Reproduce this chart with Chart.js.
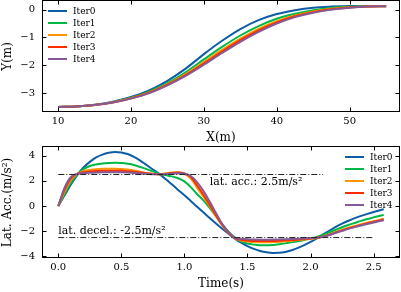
<!DOCTYPE html>
<html>
<head>
<meta charset="utf-8">
<script src="https://cdn.jsdelivr.net/npm/chart.js@4.4.1/dist/chart.umd.min.js"></script>
<style>
  html, body { margin: 0; padding: 0; background: #fff; }
  #wrap { position: relative; width: 401px; height: 292px; overflow: hidden; }
  canvas { position: absolute; left: 0; }
  #pathChart { top: 0; }
  #accChart { top: 146px; }
</style>
</head>
<body>
<div id="wrap">
  <canvas id="pathChart" width="401" height="146"></canvas>
  <canvas id="accChart" width="401" height="146"></canvas>
</div>
<script>
// series names + colours
const iterLabels = ['Iter0', 'Iter1', 'Iter2', 'Iter3', 'Iter4'];
const iterColors = ['#0C5DA5', '#00B945', '#FF9500', '#FF2C00', '#845B97'];

// top plot: path Y(m) over X(m)
const pathX = [10, 12.5, 15, 17.5, 20, 22.5, 25, 27.5, 30, 32.5, 35, 37.5, 40, 42.5, 45, 47.5, 50, 52.5, 55];
const pathY0 = [-3.5, -3.48, -3.42, -3.31, -3.14, -2.9, -2.56, -2.12, -1.6, -1.12, -0.7, -0.38, -0.16, -0.02, 0.07, 0.11, 0.13, 0.13, 0.13];
const pathY1 = [-3.5, -3.48, -3.425, -3.325, -3.17, -2.95, -2.64, -2.25, -1.79, -1.34, -0.93, -0.59, -0.33, -0.15, -0.02, 0.06, 0.1, 0.12, 0.125];
const pathY2 = [-3.5, -3.48, -3.428, -3.33, -3.185, -2.975, -2.68, -2.315, -1.885, -1.45, -1.045, -0.695, -0.415, -0.21, -0.065, 0.03, 0.085, 0.115, 0.122];
const pathY3 = [-3.5, -3.48, -3.43, -3.335, -3.19, -2.99, -2.7, -2.35, -1.94, -1.51, -1.1, -0.75, -0.46, -0.24, -0.09, 0.01, 0.08, 0.11, 0.12];
const pathY4 = [-3.5, -3.48, -3.43, -3.34, -3.2, -3.0, -2.72, -2.38, -1.98, -1.56, -1.16, -0.8, -0.5, -0.27, -0.11, 0.0, 0.07, 0.11, 0.12];

// bottom plot: lateral acceleration over time
const timeS = [
  0, 0.05, 0.1, 0.15, 0.2, 0.25, 0.3, 0.35, 0.4, 0.45,
  0.5, 0.55, 0.6, 0.65, 0.7, 0.75, 0.8, 0.85, 0.9, 0.95,
  1.0, 1.05, 1.1, 1.15, 1.2, 1.25, 1.3, 1.35, 1.4, 1.45,
  1.5, 1.55, 1.6, 1.65, 1.7, 1.75, 1.8, 1.85, 1.9, 1.95,
  2.0, 2.05, 2.1, 2.15, 2.2, 2.25, 2.3, 2.35, 2.4, 2.45,
  2.5, 2.55, 2.58
];
const latAcc0 = [
  0, 0.85, 1.7, 2.45, 3.05, 3.5, 3.85, 4.08, 4.22, 4.28,
  4.25, 4.12, 3.9, 3.6, 3.25, 2.9, 2.55, 2.15, 1.72, 1.28,
  0.85, 0.4, -0.05, -0.5, -0.95, -1.38, -1.8, -2.2, -2.58, -2.9,
  -3.18, -3.4, -3.56, -3.67, -3.72, -3.71, -3.64, -3.5, -3.32, -3.1,
  -2.85, -2.56, -2.25, -1.95, -1.66, -1.4, -1.17, -0.96, -0.78, -0.62,
  -0.47, -0.33, -0.25
];
const latAcc1 = [
  0, 0.95, 1.85, 2.5, 2.92, 3.17, 3.3, 3.38, 3.42, 3.43,
  3.41, 3.35, 3.25, 3.1, 2.93, 2.75, 2.57, 2.45, 2.35, 2.2,
  1.95, 1.5, 0.95, 0.45, -0.15, -0.8, -1.45, -2.03, -2.5, -2.8,
  -2.97, -3.06, -3.1, -3.1, -3.08, -3.03, -2.96, -2.88, -2.79, -2.69,
  -2.58, -2.45, -2.28, -2.08, -1.88, -1.68, -1.5, -1.34, -1.18, -1.03,
  -0.9, -0.77, -0.7
];
const latAcc2 = [
  0, 1.15, 2.05, 2.55, 2.76, 2.86, 2.92, 2.95, 2.96, 2.96,
  2.94, 2.89, 2.82, 2.72, 2.62, 2.55, 2.52, 2.58, 2.66, 2.68,
  2.55, 2.2, 1.45, 0.75, 0.0, -0.8, -1.55, -2.15, -2.55, -2.73,
  -2.82, -2.86, -2.88, -2.88, -2.86, -2.83, -2.79, -2.75, -2.7, -2.65,
  -2.6, -2.53, -2.42, -2.25, -2.06, -1.88, -1.72, -1.58, -1.45, -1.32,
  -1.2, -1.08, -1.0
];
const latAcc3 = [
  0, 1.3, 2.2, 2.55, 2.67, 2.73, 2.77, 2.79, 2.8, 2.8,
  2.79, 2.76, 2.71, 2.65, 2.59, 2.54, 2.52, 2.56, 2.62, 2.65,
  2.58, 2.3, 1.65, 0.92, 0.1, -0.72, -1.5, -2.12, -2.54, -2.68,
  -2.74, -2.77, -2.78, -2.78, -2.77, -2.75, -2.72, -2.69, -2.65, -2.61,
  -2.57, -2.52, -2.43, -2.28, -2.1, -1.93, -1.77, -1.63, -1.5, -1.37,
  -1.25, -1.14, -1.06
];
const latAcc4 = [
  0, 1.45, 2.3, 2.55, 2.6, 2.63, 2.65, 2.67, 2.68, 2.68,
  2.67, 2.65, 2.62, 2.58, 2.55, 2.52, 2.51, 2.53, 2.57, 2.6,
  2.58, 2.38, 1.9, 1.2, 0.35, -0.55, -1.42, -2.08, -2.52, -2.6,
  -2.64, -2.66, -2.67, -2.67, -2.66, -2.65, -2.63, -2.61, -2.59, -2.57,
  -2.55, -2.52, -2.44, -2.3, -2.13, -1.97, -1.81, -1.67, -1.54, -1.42,
  -1.3, -1.19, -1.12
];

// limit lines (value, time span)
const accLimit = 2.5;
const accLimitT = [0, 2.1];
const decelLimit = -2.5;
const decelLimitT = [0, 2.5];

Chart.defaults.font.family = "'DejaVu Serif', serif";
Chart.defaults.color = '#000';

const minus = v => (v < 0 ? '\u2212' + Math.abs(v) : String(v));

// box around plot area + inward ticks on all four sides
const frameTicks = {
  id: 'frameTicks',
  afterDraw(chart) {
    const { ctx, chartArea: a, scales } = chart;
    const len = 4;
    ctx.save();
    ctx.strokeStyle = '#000';
    ctx.lineWidth = 1;
    const L = Math.round(a.left) + 0.5, R = Math.round(a.right) - 0.5;
    const T = Math.round(a.top) - 0.5, B = Math.round(a.bottom) - 0.5;
    ctx.strokeRect(L, T, R - L, B - T);
    ctx.beginPath();
    scales.x.ticks.forEach(t => {
      const p = Math.round(scales.x.getPixelForValue(t.value)) + 0.5;
      ctx.moveTo(p, B); ctx.lineTo(p, B - len);
      ctx.moveTo(p, T); ctx.lineTo(p, T + len);
    });
    scales.y.ticks.forEach(t => {
      const p = Math.round(scales.y.getPixelForValue(t.value)) + 0.5;
      ctx.moveTo(L, p); ctx.lineTo(L + len, p);
      ctx.moveTo(R, p); ctx.lineTo(R - len, p);
    });
    ctx.stroke();
    ctx.restore();
  }
};

// legend drawn inside the plot area
const innerLegend = {
  id: 'innerLegend',
  afterDraw(chart, args, opts) {
    const { ctx, chartArea: a } = chart;
    const x0 = opts.side === 'right' ? a.right - opts.dx : a.left + opts.dx;
    let y = a.top + opts.dy;
    ctx.save();
    ctx.font = "9px 'DejaVu Serif', serif";
    ctx.textBaseline = 'middle';
    ctx.fillStyle = '#000';
    chart.data.datasets.forEach(ds => {
      if (!ds.inLegend) return;
      ctx.strokeStyle = ds.borderColor;
      ctx.lineWidth = 2;
      ctx.beginPath();
      ctx.moveTo(x0, y);
      ctx.lineTo(x0 + 19, y);
      ctx.stroke();
      ctx.fillText(ds.label, x0 + 25, y + 0.5);
      y += 12;
    });
    ctx.restore();
  }
};

// free text placed at data coordinates
const noteText = {
  id: 'noteText',
  afterDraw(chart, args, opts) {
    const { ctx, scales } = chart;
    ctx.save();
    ctx.font = "11px 'DejaVu Serif', serif";
    ctx.fillStyle = '#000';
    ctx.textBaseline = 'alphabetic';
    (opts.items || []).forEach(n => {
      ctx.fillText(n.text, scales.x.getPixelForValue(n.x), scales.y.getPixelForValue(n.y));
    });
    ctx.restore();
  }
};

function iterSets(xs, ys) {
  return ys.map((arr, i) => ({
    label: iterLabels[i],
    inLegend: true,
    data: arr.map((v, k) => ({ x: xs[k], y: v })),
    borderColor: iterColors[i],
    backgroundColor: iterColors[i],
    borderWidth: 2,
    pointRadius: 0,
    cubicInterpolationMode: 'monotone',
    order: iterLabels.length - i
  }));
}

function axes(xc, yc) {
  return {
    x: {
      type: 'linear', min: xc.min, max: xc.max,
      grid: { display: false, drawTicks: false },
      border: { display: false },
      ticks: { stepSize: xc.step, includeBounds: false, padding: 3, font: { size: 10 }, callback: xc.fmt, maxRotation: 0 },
      title: { display: true, text: xc.title, font: { size: 12 }, padding: { top: 0, bottom: 1 } },
      afterFit: s => { s.height = 34; s.paddingLeft = 0; s.paddingRight = 0; }
    },
    y: {
      type: 'linear', min: yc.min, max: yc.max,
      grid: { display: false, drawTicks: false },
      border: { display: false },
      ticks: { stepSize: yc.step, includeBounds: false, padding: 7, font: { size: 10 }, callback: minus },
      title: { display: true, text: yc.title, font: { size: 12 }, padding: { top: 1, bottom: 0 } },
      afterFit: s => { s.width = 42; s.paddingTop = 0; s.paddingBottom = 0; }
    }
  };
}

const common = {
  responsive: false,
  animation: false,
  devicePixelRatio: 1,
  layout: { autoPadding: false, padding: { top: 1, right: 1, left: 0, bottom: 0 } },
  events: []
};

new Chart(document.getElementById('pathChart'), {
  type: 'line',
  data: { datasets: iterSets(pathX, [pathY0, pathY1, pathY2, pathY3, pathY4]) },
  options: Object.assign({}, common, {
    scales: axes(
      { min: 7.8, max: 56.9, step: 10, title: 'X(m)', fmt: v => String(v) },
      { min: -3.68, max: 0.31, step: 1, title: 'Y(m)' }
    ),
    plugins: {
      legend: { display: false },
      tooltip: { enabled: false },
      innerLegend: { side: 'left', dx: 6, dy: 10 }
    }
  }),
  plugins: [frameTicks, innerLegend]
});

const limitStyle = {
  borderColor: '#222', borderWidth: 1, borderDash: [6, 2, 1, 2],
  pointRadius: 0, order: 0, inLegend: false
};

new Chart(document.getElementById('accChart'), {
  type: 'line',
  data: {
    datasets: iterSets(timeS, [latAcc0, latAcc1, latAcc2, latAcc3, latAcc4]).concat([
      Object.assign({ label: 'acc', data: accLimitT.map(t => ({ x: t, y: accLimit })) }, limitStyle),
      Object.assign({ label: 'decel', data: decelLimitT.map(t => ({ x: t, y: decelLimit })) }, limitStyle)
    ])
  },
  options: Object.assign({}, common, {
    scales: axes(
      { min: -0.129, max: 2.709, step: 0.5, title: 'Time(s)', fmt: v => v.toFixed(1) },
      { min: -4.12, max: 4.68, step: 2, title: 'Lat. Acc.(m/s\u00B2)' }
    ),
    plugins: {
      legend: { display: false },
      tooltip: { enabled: false },
      innerLegend: { side: 'right', dx: 55, dy: 10 },
      noteText: {
        items: [
          { text: 'lat. acc.: 2.5m/s\u00B2', x: 1.2, y: 1.65 },
          { text: 'lat. decel.: -2.5m/s\u00B2', x: 0.0, y: -2.2 }
        ]
      }
    }
  }),
  plugins: [frameTicks, innerLegend, noteText]
});
</script>
</body>
</html>
